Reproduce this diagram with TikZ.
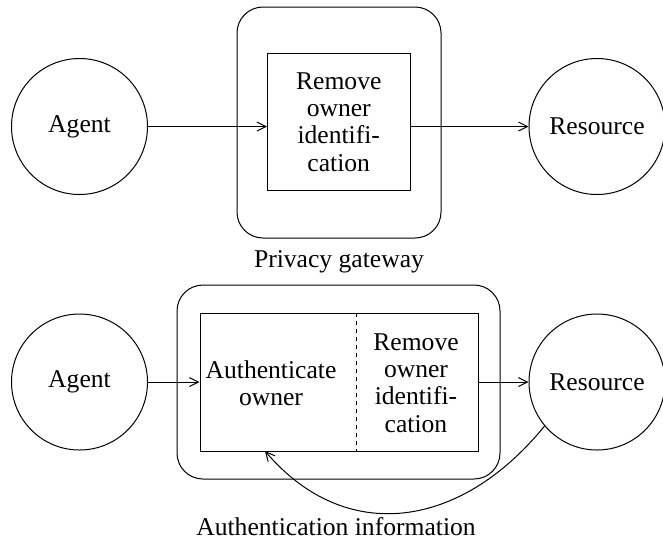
\documentclass[tikz,border=0pt]{standalone}
\usepackage{fontspec}
\newfontfamily\diafont{LiberationSerif}[Extension=.ttf,UprightFont=*-Regular]
\usetikzlibrary{arrows.meta,calc}
\begin{document}
\begin{tikzpicture}[x=0.5pt,y=-0.5pt,
  line width=0.5pt,
  every node/.style={font=\diafont\fontsize{12.8}{13.6}\selectfont},
  actor/.style={draw,circle,minimum size=68pt,inner sep=0pt},
  gateway/.style={draw,rounded corners=13pt,inner sep=0pt},
  procbox/.style={draw,inner sep=0pt,align=center},
  txt/.style={align=center,inner sep=0pt},
  arr/.style={-{Straight Barb[length=4.5pt,width=4.5pt]}}]
\useasboundingbox (0,0) rectangle (663,548);
% top diagram
\node[actor] (agent1) at (79.5,126.5) {Agent};
\node[actor] (res1) at (597,126.5) {Resource};
\node[gateway,minimum width=102pt,minimum height=115.5pt] (gw1) at (339,122.5) {};
\node[procbox,minimum width=71.25pt,minimum height=68.5pt] (rm1) at (338.75,122) {Remove\\owner\\identifi-\\cation};
\node[txt] (gwlabel) at (339,262) {Privacy gateway};
\draw[arr] (agent1.east) -- (agent1.east -| rm1.west);
\draw[arr] (rm1.east |- res1.west) -- (res1.west);
% bottom diagram
\node[actor] (agent2) at (79.5,382) {Agent};
\node[actor] (res2) at (597,382) {Resource};
\node[gateway,minimum width=161.5pt,minimum height=97pt] (gw2) at (338.5,382) {};
\node[procbox,minimum width=139pt,minimum height=69pt] (box2) at (339,382) {};
\node[txt] (auth) at (271,383) {Authenticate\\owner};
\node[txt] (rm2) at (416,383) {Remove\\owner\\identifi-\\cation};
\coordinate (divider) at (356.5,382);
\draw[dash pattern=on 2pt off 2pt] (box2.north -| divider) -- (box2.south -| divider);
\draw[arr] (agent2.east) -- (box2.west);
\draw[arr] (box2.east) -- (res2.west);
\coordinate (authin) at (265,451);
\draw[arr] (res2.220) .. controls (460,530) and (345,545) .. (authin);
\node[txt] (authlabel) at (336,527) {Authentication information};
\end{tikzpicture}
\end{document}
